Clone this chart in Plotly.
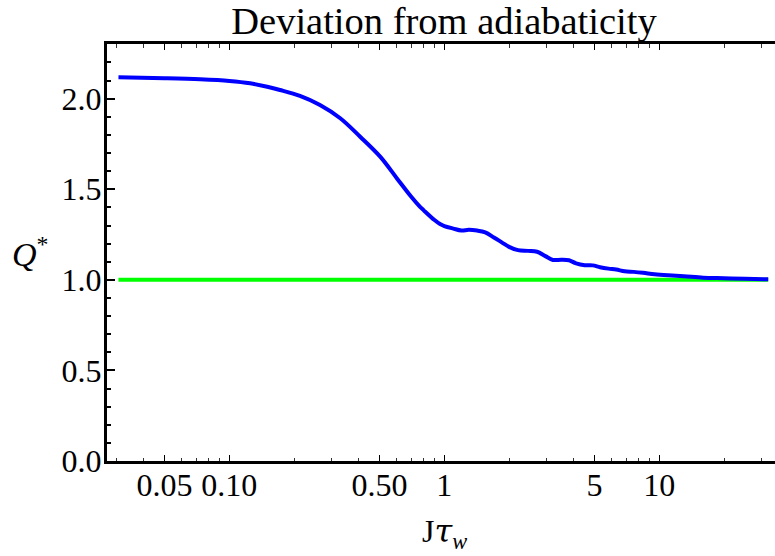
import plotly.graph_objects as go

# values (J*tau_w, Q*)
j_tau = [0.0305, 0.05, 0.0731, 0.1, 0.125, 0.15, 0.172, 0.213, 0.264, 0.328,
         0.406, 0.503, 0.602, 0.70, 0.771, 0.80, 0.90, 0.955, 1.0, 1.1, 1.2,
         1.3, 1.42, 1.55, 1.70, 1.85, 2.0, 2.2, 2.45, 2.7, 2.95, 3.2, 3.5,
         3.8, 4.1, 4.5, 4.9, 5.3, 5.8, 6.3, 6.9, 7.6, 8.4, 9.5, 11, 13, 16,
         20, 25, 32.1]
q_star = [2.118, 2.113, 2.107, 2.098, 2.085, 2.066, 2.048, 2.015, 1.965, 1.892,
          1.790, 1.680, 1.560, 1.460, 1.403, 1.385, 1.330, 1.308, 1.297, 1.283,
          1.272, 1.276, 1.272, 1.262, 1.234, 1.207, 1.182, 1.164, 1.160, 1.155,
          1.131, 1.110, 1.111, 1.108, 1.091, 1.081, 1.080, 1.070, 1.062, 1.057,
          1.047, 1.044, 1.039, 1.031, 1.025, 1.020, 1.012, 1.009, 1.006, 1.003]
adiabatic_x = [0.0305, 32.1]
adiabatic_y = [1.0, 1.0]

x_major = [0.05, 0.1, 0.5, 1, 5, 10]
x_major_text = ['0.05', '0.10', '0.50', '1', '5', '10']
x_minor = [0.03, 0.04, 0.06, 0.07, 0.08, 0.09, 0.2, 0.3, 0.4, 0.6, 0.7, 0.8,
           0.9, 2, 3, 4, 6, 7, 8, 9, 20, 30]
y_major = [0, 0.5, 1.0, 1.5, 2.0]
y_major_text = ['0.0', '0.5', '1.0', '1.5', '2.0']

serif = 'Liberation Serif'

fig = go.Figure()
fig.add_trace(go.Scatter(x=adiabatic_x, y=adiabatic_y, mode='lines',
                         line=dict(color='#00ff00', width=4)))
fig.add_trace(go.Scatter(x=j_tau, y=q_star, mode='lines',
                         line=dict(color='#0000ff', width=4, shape='spline',
                                   smoothing=1.0)))

fig.update_layout(
    width=775, height=556,
    margin=dict(l=107, r=0, t=44, b=95),
    plot_bgcolor='white', paper_bgcolor='white',
    showlegend=False,
    font=dict(family=serif, color='black', size=32),
    title=dict(text='Deviation from adiabaticity', x=444/775, xanchor='center',
               y=1-21/556, yanchor='middle', yref='container',
               font=dict(family=serif, size=38.5, color='black')),
    xaxis=dict(type='log', range=[-1.569, 1.538], automargin=False,
               tickmode='array', tickvals=x_major, ticktext=x_major_text,
               ticks='inside', ticklen=6, tickwidth=1, tickcolor='black',
               minor=dict(tickvals=x_minor, ticks='inside', ticklen=3.5,
                          tickwidth=1, tickcolor='#333'),
               showline=True, linewidth=3, linecolor='black',
               mirror='allticks', showgrid=False, zeroline=False,
               tickfont=dict(family=serif, size=32),
               ticklabelstandoff=-6),
    yaxis=dict(range=[0, 2.302], automargin=False,
               tickmode='array', tickvals=y_major, ticktext=y_major_text,
               ticks='inside', ticklen=8, tickwidth=2, tickcolor='black',
               minor=dict(dtick=0.1, tick0=0, ticks='inside', ticklen=4,
                          tickwidth=2, tickcolor='black'),
               showline=True, linewidth=3, linecolor='black',
               showgrid=False, zeroline=False,
               tickfont=dict(family=serif, size=32),
               ticklabelstandoff=-4),
)

fig.add_annotation(text='<i>Q</i><sup>*</sup>', xref='paper', yref='paper',
                   x=-0.1455, y=0.502, showarrow=False,
                   font=dict(family=serif, size=34))
fig.add_annotation(text='J<span style="font-family:DejaVu Serif"><i>τ</i></span>'
                        '<sub><i>w</i></sub>',
                   xref='paper', yref='paper', x=0.5045, y=-0.229,
                   showarrow=False, font=dict(family=serif, size=32))

# drop the default 8px body margin so the figure sits at the page corner
fig.write_html('out.html', config={'displayModeBar': False},
               post_script="document.body.style.margin='0';")
